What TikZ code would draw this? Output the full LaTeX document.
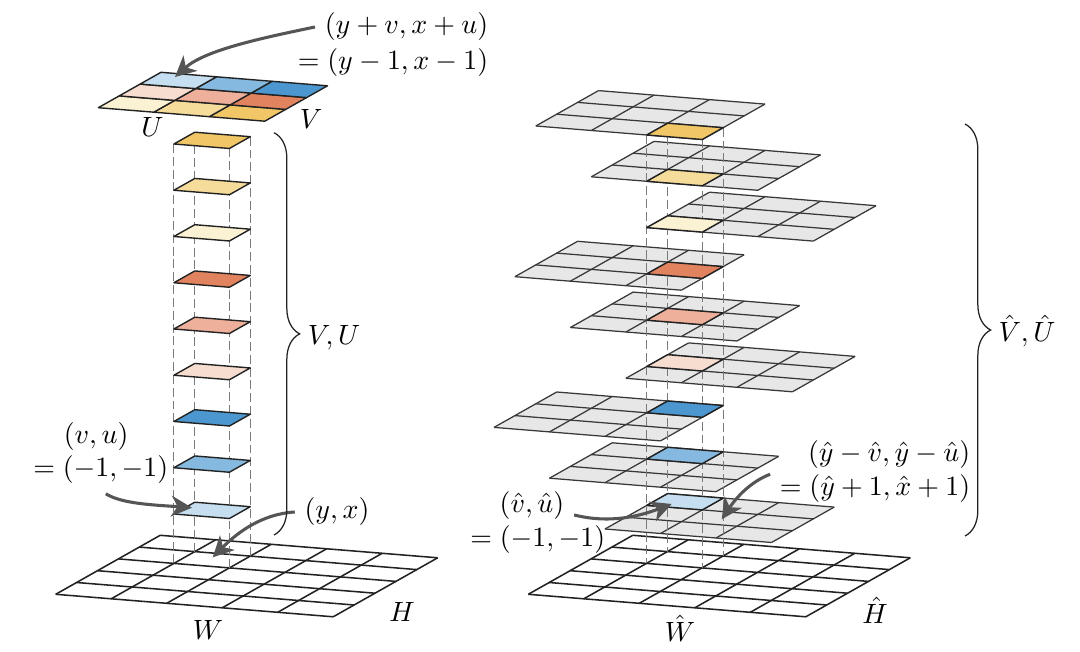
\documentclass[tikz,border=0pt]{standalone}
\usepackage{amsmath,amssymb}
\usepackage{tikz}
\usetikzlibrary{arrows.meta,calc,decorations.pathreplacing}
\definecolor{YelDark}{HTML}{F0C666}
\definecolor{YelMid}{HTML}{F6DC9B}
\definecolor{YelPale}{HTML}{FBF1D3}
\definecolor{RedDark}{HTML}{E2835F}
\definecolor{RedMid}{HTML}{EEB09A}
\definecolor{RedPale}{HTML}{F6DDD0}
\definecolor{BluDark}{HTML}{4C97CF}
\definecolor{BluMid}{HTML}{86B9DF}
\definecolor{BluPale}{HTML}{C5DFF0}
\definecolor{Sheet}{HTML}{E7E7E7}
\definecolor{Ink}{HTML}{222222}
\definecolor{Muted}{HTML}{555555}
\definecolor{Drop}{HTML}{7A7A7A}
\tikzset{
  base/.style={draw=Ink,line width=.55pt,line join=round},
  layer/.style={draw=Ink!90,line width=.45pt,line join=round},
  patch/.style={draw=Ink,line width=.5pt,line join=round},
  drop/.style={draw=Drop,dashed,dash pattern=on 3.2pt off 1.4pt,line width=.38pt},
  lab/.style={font=\normalsize},
  callout/.style={-{Stealth[length=7.4pt,width=7.4pt,inset=2.2pt]},draw=Muted,line width=1.1pt},
  curly/.style={draw=Ink,line width=.45pt,decorate,decoration={brace,amplitude=9.2pt}},
}
% one cell along the width and along the depth, in pixels of the page
\newcommand{\ux}{55.5}
\newcommand{\uy}{4.5}
\newcommand{\vx}{20.9}
\newcommand{\vy}{-11.8}
\newcommand{\gridsheet}[5]{%
  \fill[fill=#5] (#1,#2) -- ++({#3*\ux},{#3*\uy}) -- ++({#4*\vx},{#4*\vy}) -- ++({-#3*\ux},{-#3*\uy}) -- cycle;
  \foreach \i in {0,...,#3}
    \draw[#5 line] ({#1+\i*\ux},{#2+\i*\uy}) -- ++({#4*\vx},{#4*\vy});
  \foreach \j in {0,...,#4}
    \draw[#5 line] ({#1+\j*\vx},{#2+\j*\vy}) -- ++({#3*\ux},{#3*\uy});
}
\newcommand{\cellpatch}[3]{%
  \draw[patch,fill=#3] (#1,#2) -- ++(\ux,\uy) -- ++(\vx,\vy) -- ++(-\ux,-\uy) -- cycle;
}
\tikzset{white line/.style={base},Sheet line/.style={layer}}

\begin{document}
\begin{tikzpicture}[x=.0126cm,y=-.0126cm]
    \useasboundingbox (0,0) rectangle (1080,652);

    % floor grids
    \gridsheet{55.7}{594.3}{5}{5}{white}
    \gridsheet{528.3}{594.3}{5}{5}{white}

    % grey layers on the right
    \foreach \ci/\cj [count=\n from 0] in {2/0,1/0,0/0,2/1,1/1,0/1,2/2,1/2,0/2} {
      \pgfmathsetmacro{\sx}{646.8-\ci*\ux-\cj*\vx}
      \pgfmathsetmacro{\sy}{135+\n*46.3-\ci*\uy-\cj*\vy}
      \gridsheet{\sx}{\sy}{3}{3}{Sheet}
    }

    % drop lines
    \foreach \i/\j in {0/0,0/1,1/0,1/1} {
      \draw[drop] ({173.9+\i*\ux+\j*\vx},{144+\i*\uy+\j*\vy}) -- ++(0,419.4);
      \draw[drop] ({646.8+\i*\ux+\j*\vx},{135+\i*\uy+\j*\vy}) -- ++(0,428.4);
    }

    % palette and the two stacks
    \foreach \ci/\cj/\col [count=\n from 0] in {2/0/YelDark,1/0/YelMid,0/0/YelPale,2/1/RedDark,1/1/RedMid,0/1/RedPale,2/2/BluDark,1/2/BluMid,0/2/BluPale} {
      \cellpatch{98.3+\ci*\ux+\cj*\vx}{107.7+\ci*\uy+\cj*\vy}{\col}
      \cellpatch{173.9}{144+\n*46.25}{\col}
      \cellpatch{646.8}{135+\n*46.3}{\col}
    }

    % labels, left
    \node[lab] (lU) at (152.5,127) {$U$};
    \node[lab] (lV) at (311,119) {$V$};
    \node[lab,anchor=east] (top1) at (498,27) {$(y+v,x+u)$};
    \node[lab,anchor=east] (top2) at (498,63) {$=(y-1,x-1)$};
    \node[lab] (lVU) at (334,338) {$V,U$};
    \node[lab,anchor=west] (res1) at (54,437) {$(v,u)$};
    \node[lab,anchor=east] (res2) at (178,470) {$=(-1,-1)$};
    \node[lab] (yx) at (337,512) {$(y,x)$};
    \node[lab] (lW) at (208,630) {$W$};
    \node[lab] (lH) at (402,612) {$H$};

    % labels, right
    \node[lab] (hVU) at (1027,331) {$\hat V,\hat U$};
    \node[lab,anchor=east] (hat1) at (980,455) {$(\hat y-\hat v,\hat y-\hat u)$};
    \node[lab,anchor=east] (hat2) at (980,489) {$=(\hat y+1,\hat x+1)$};
    \node[lab] (hres1) at (532,506) {$(\hat v,\hat u)$};
    \node[lab,anchor=east] (hres2) at (615,540) {$=(-1,-1)$};
    \node[lab] (hW) at (680,628) {$\hat W$};
    \node[lab] (hH) at (875,610) {$\hat H$};

    % ends of the callouts and of the braces
    \coordinate (t1) at (175,77);
    \coordinate (t2) at (192,507.7);
    \coordinate (t3) at (212.7,557.3);
    \coordinate (t4) at (671.7,504);
    \coordinate (t5) at (721.7,519.3);
    \coordinate (b1) at (274,132.7);
    \coordinate (b2) at (274,535);
    \coordinate (b3) at (965,124);
    \coordinate (b4) at (965,536);

    \draw[callout] (top1.west) .. controls (262,38) and (205,50) .. (t1);
    \draw[callout] (res2.-78) .. controls (122,504) and (155,505) .. (t2);
    \draw[callout] (yx.west) .. controls (262,514) and (238,532) .. (t3);
    \draw[callout] (hres1.-12) .. controls (610,524) and (640,516) .. (t4);
    \draw[callout] (hat2.172) .. controls (750,482) and (736,498) .. (t5);

    \draw[curly] (b1) -- (b2);
    \draw[curly] (b3) -- (b4);
\end{tikzpicture}
\end{document}
